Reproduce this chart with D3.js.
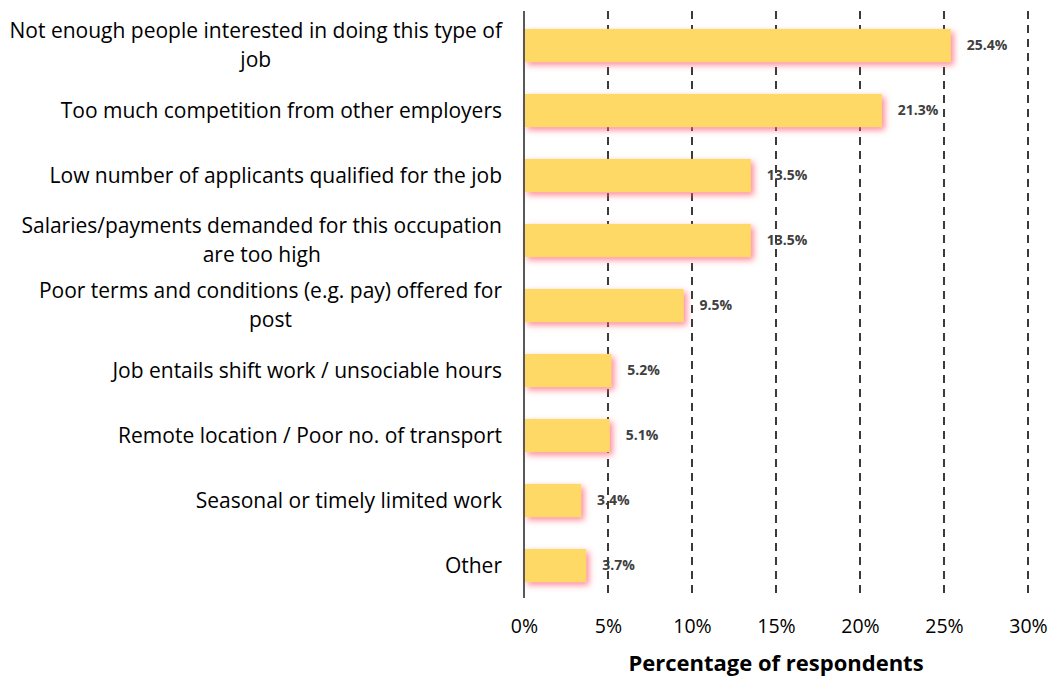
<!DOCTYPE html>
<html>
<head>
<meta charset="utf-8">
<script src="https://cdn.jsdelivr.net/npm/d3@7"></script>
<style>
  body { margin: 0; background: #fff; }
  text { font-family: "Open Sans", sans-serif; }
</style>
</head>
<body>
<svg id="chart"></svg>
<script>
const size = { w: 1050, h: 676 };
const margin = { t: 13, r: 22, b: 78, l: 524 };

// data
const categories = [
	["Not enough people interested in doing this type of", "job"],
	["Too much competition from other employers"],
	["Low number of applicants qualified for the job"],
	["Salaries/payments demanded for this occupation", "are too high"],
	["Poor terms and conditions (e.g. pay) offered for", "post"],
	["Job entails shift work / unsociable hours"],
	["Remote location / Poor no. of transport"],
	["Seasonal or timely limited work"],
	["Other"],
];
const values = [25.4, 21.3, 13.5, 13.5, 9.5, 5.2, 5.1, 3.4, 3.7];
const ticks = [0, 5, 10, 15, 20, 25, 30];

const svg = d3.select("svg#chart").attr("width", size.w).attr("height", size.h);

const defs = svg.append("defs");
const glow = defs
	.append("filter")
	.attr("id", "glow")
	.attr("x", "-10%")
	.attr("y", "-30%")
	.attr("width", "130%")
	.attr("height", "180%");
glow
	.append("feDropShadow")
	.attr("dx", 3)
	.attr("dy", 3)
	.attr("stdDeviation", 3)
	.attr("flood-color", "#ff5a6e")
	.attr("flood-opacity", 0.7);

const g = svg.append("g").attr("transform", `translate(${margin.l}, ${margin.t})`);

const xScale = d3.scaleLinear().domain([0, 30]).range([0, 504]);
const yScale = d3
	.scaleBand()
	.domain(d3.range(categories.length))
	.range([0, 585])
	.paddingInner(0.49)
	.paddingOuter(0.245);

// dashed gridlines
g.append("g")
	.selectAll("line")
	.data(ticks.filter((d) => d > 0))
	.join("line")
	.attr("x1", (d) => xScale(d))
	.attr("x2", (d) => xScale(d))
	.attr("y1", -2)
	.attr("y2", 585)
	.attr("stroke", "#3a3a3a")
	.attr("stroke-width", 2)
	.attr("stroke-dasharray", "8,6");

// bars
g.append("g")
	.selectAll("rect")
	.data(values)
	.join("rect")
	.attr("x", 0)
	.attr("y", (d, i) => yScale(i))
	.attr("width", (d) => xScale(d))
	.attr("height", yScale.bandwidth())
	.attr("fill", "#ffd966")
	.attr("filter", "url(#glow)");

// vertical axis line
g.append("line")
	.attr("x1", 0)
	.attr("x2", 0)
	.attr("y1", -2)
	.attr("y2", 585)
	.attr("stroke", "#595959")
	.attr("stroke-width", 2);

// value labels
g.append("g")
	.selectAll("text")
	.data(values)
	.join("text")
	.attr("x", (d) => xScale(d) + 16)
	.attr("y", (d, i) => yScale(i) + yScale.bandwidth() / 2)
	.attr("dy", "0.35em")
	.attr("fill", "#404040")
	.attr("font-size", 14)
	.attr("font-weight", "bold")
	.text((d) => d.toFixed(1) + "%");

// category labels: wrapped lines are centred within a right-aligned block
g.append("g")
	.selectAll("text")
	.data(categories)
	.join("text")
	.attr("font-size", 21)
	.attr("fill", "#000")
	.each(function (lines, i) {
		const t = d3.select(this);
		const cy = yScale(i) + yScale.bandwidth() / 2;
		const lh = 29;
		const y0 = cy - ((lines.length - 1) * lh) / 2;
		const spans = lines.map((s, k) =>
			t.append("tspan")
				.attr("y", y0 + k * lh)
				.attr("dy", "0.35em")
				.text(s)
		);
		const maxW = d3.max(spans, (sp) => sp.node().getComputedTextLength());
		t.attr("text-anchor", "middle");
		spans.forEach((sp) => sp.attr("x", -22 - maxW / 2));
	});

// x axis tick labels
const xAxis = d3
	.axisBottom(xScale)
	.tickValues(ticks)
	.tickSize(0)
	.tickFormat((d) => d + "%");
g.append("g")
	.attr("transform", `translate(0, ${585 + 18})`)
	.call(xAxis)
	.call((a) => a.select(".domain").remove())
	.selectAll("text")
	.attr("font-family", "Open Sans, sans-serif")
	.attr("font-size", 19.5)
	.attr("fill", "#000");

// axis title
g.append("text")
	.attr("x", xScale(15))
	.attr("y", 658)
	.attr("text-anchor", "middle")
	.attr("font-size", 22)
	.attr("font-weight", "bold")
	.attr("fill", "#000")
	.text("Percentage of respondents");
</script>
</body>
</html>
